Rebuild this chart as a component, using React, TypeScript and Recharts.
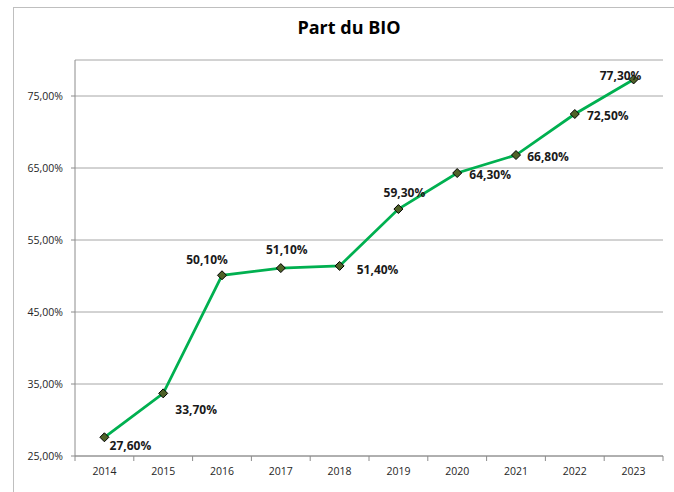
import React from "react";
import { LineChart, Line, XAxis, YAxis, CartesianGrid } from "recharts";

const years = ["2014", "2015", "2016", "2017", "2018", "2019", "2020", "2021", "2022", "2023"];
const bioShare = [27.6, 33.7, 50.1, 51.1, 51.4, 59.3, 64.3, 66.8, 72.5, 77.3];
const yTicks = [25, 35, 45, 55, 65, 75];

// label placement offsets (style only)
const labelOffsets: [number, number][] = [
  [26, 8], [33, 16], [-15, -16], [6, -19], [38, 4],
  [6, -17], [33, 1], [32, 1], [33, 1], [-13, -4],
];

const data = years.map((y, i) => ({ year: y, value: bioShare[i] }));

const W = 674;
const H = 492;
const M = { top: 60, right: 11, left: 15, bottom: 6 };
const Y_W = 60;
const X_H = 30;
const PLOT_W = W - M.left - M.right - Y_W;
const BAND = PLOT_W / years.length;
const AXIS_Y = H - M.bottom - X_H;

const fmt = (v: number) => v.toFixed(2).replace(".", ",") + "%";

const Diamond = (props: any) => {
  const { cx, cy, index } = props;
  if (cx == null || cy == null) return null;
  const r = 4.5;
  return (
    <polygon
      key={"d" + index}
      points={`${cx},${cy - r} ${cx + r},${cy} ${cx},${cy + r} ${cx - r},${cy}`}
      fill="#4f6228"
      stroke="#000"
      strokeWidth={1}
    />
  );
};

const DataLabel = (props: any) => {
  const { x, y, value, index } = props;
  const off = labelOffsets[index] || [0, -12];
  return (
    <text
      x={x + off[0]}
      y={y + off[1]}
      textAnchor="middle"
      dominantBaseline="central"
      fontFamily="'Open Sans', sans-serif"
      fontWeight={700}
      fontSize={12}
      fill="#1a1a1a"
    >
      {fmt(value)}
    </text>
  );
};

const XTick = (props: any) => {
  const { x, payload, index } = props;
  const lx = x - BAND / 2;
  return (
    <g>
      <line x1={lx} y1={AXIS_Y} x2={lx} y2={AXIS_Y + 5} stroke="#8c8c8c" />
      {index === years.length - 1 && (
        <line x1={x + BAND / 2} y1={AXIS_Y} x2={x + BAND / 2} y2={AXIS_Y + 5} stroke="#8c8c8c" />
      )}
      <text
        x={x}
        y={AXIS_Y + 15}
        textAnchor="middle"
        dominantBaseline="central"
        fontFamily="'Open Sans', sans-serif"
        fontSize={10.5}
        fill="#262626"
      >
        {payload.value}
      </text>
    </g>
  );
};

export default function App() {
  return (
    <div style={{ position: "fixed", left: 0, top: 0, width: W, height: H, overflow: "hidden", background: "#fff" }}>
      <div
        style={{
          position: "absolute",
          left: 13,
          top: 7,
          width: W,
          height: H,
          border: "1px solid #bfbfbf",
          boxSizing: "border-box",
        }}
      />
      <div
        style={{
          position: "absolute",
          left: 13,
          top: 14,
          width: 672,
          textAlign: "center",
          fontFamily: "'Open Sans', sans-serif",
          fontWeight: 700,
          fontSize: 18,
          lineHeight: "26px",
          color: "#000",
        }}
      >
        Part du BIO
      </div>
      <div style={{ position: "absolute", left: 0, top: 0 }}>
        <LineChart width={W} height={H} data={data} margin={M}>
          <CartesianGrid vertical={false} stroke="#a6a6a6" />
          <XAxis
            dataKey="year"
            height={X_H}
            padding={{ left: BAND / 2, right: BAND / 2 }}
            axisLine={{ stroke: "#8c8c8c" }}
            tickLine={false}
            tick={<XTick />}
            interval={0}
          />
          <YAxis
            width={Y_W}
            domain={[25, 80]}
            ticks={yTicks}
            allowDataOverflow
            axisLine={{ stroke: "#8c8c8c" }}
            tickLine={{ stroke: "#8c8c8c" }}
            tickSize={4}
            tickMargin={8}
            tickFormatter={fmt}
            tick={{ fontFamily: "'Open Sans', sans-serif", fontSize: 10.5, fill: "#262626" }}
          />
          <Line
            type="linear"
            dataKey="value"
            stroke="#00b050"
            strokeWidth={2.75}
            dot={Diamond}
            activeDot={false}
            label={<DataLabel />}
            isAnimationActive={false}
          />
        </LineChart>
      </div>
    </div>
  );
}
